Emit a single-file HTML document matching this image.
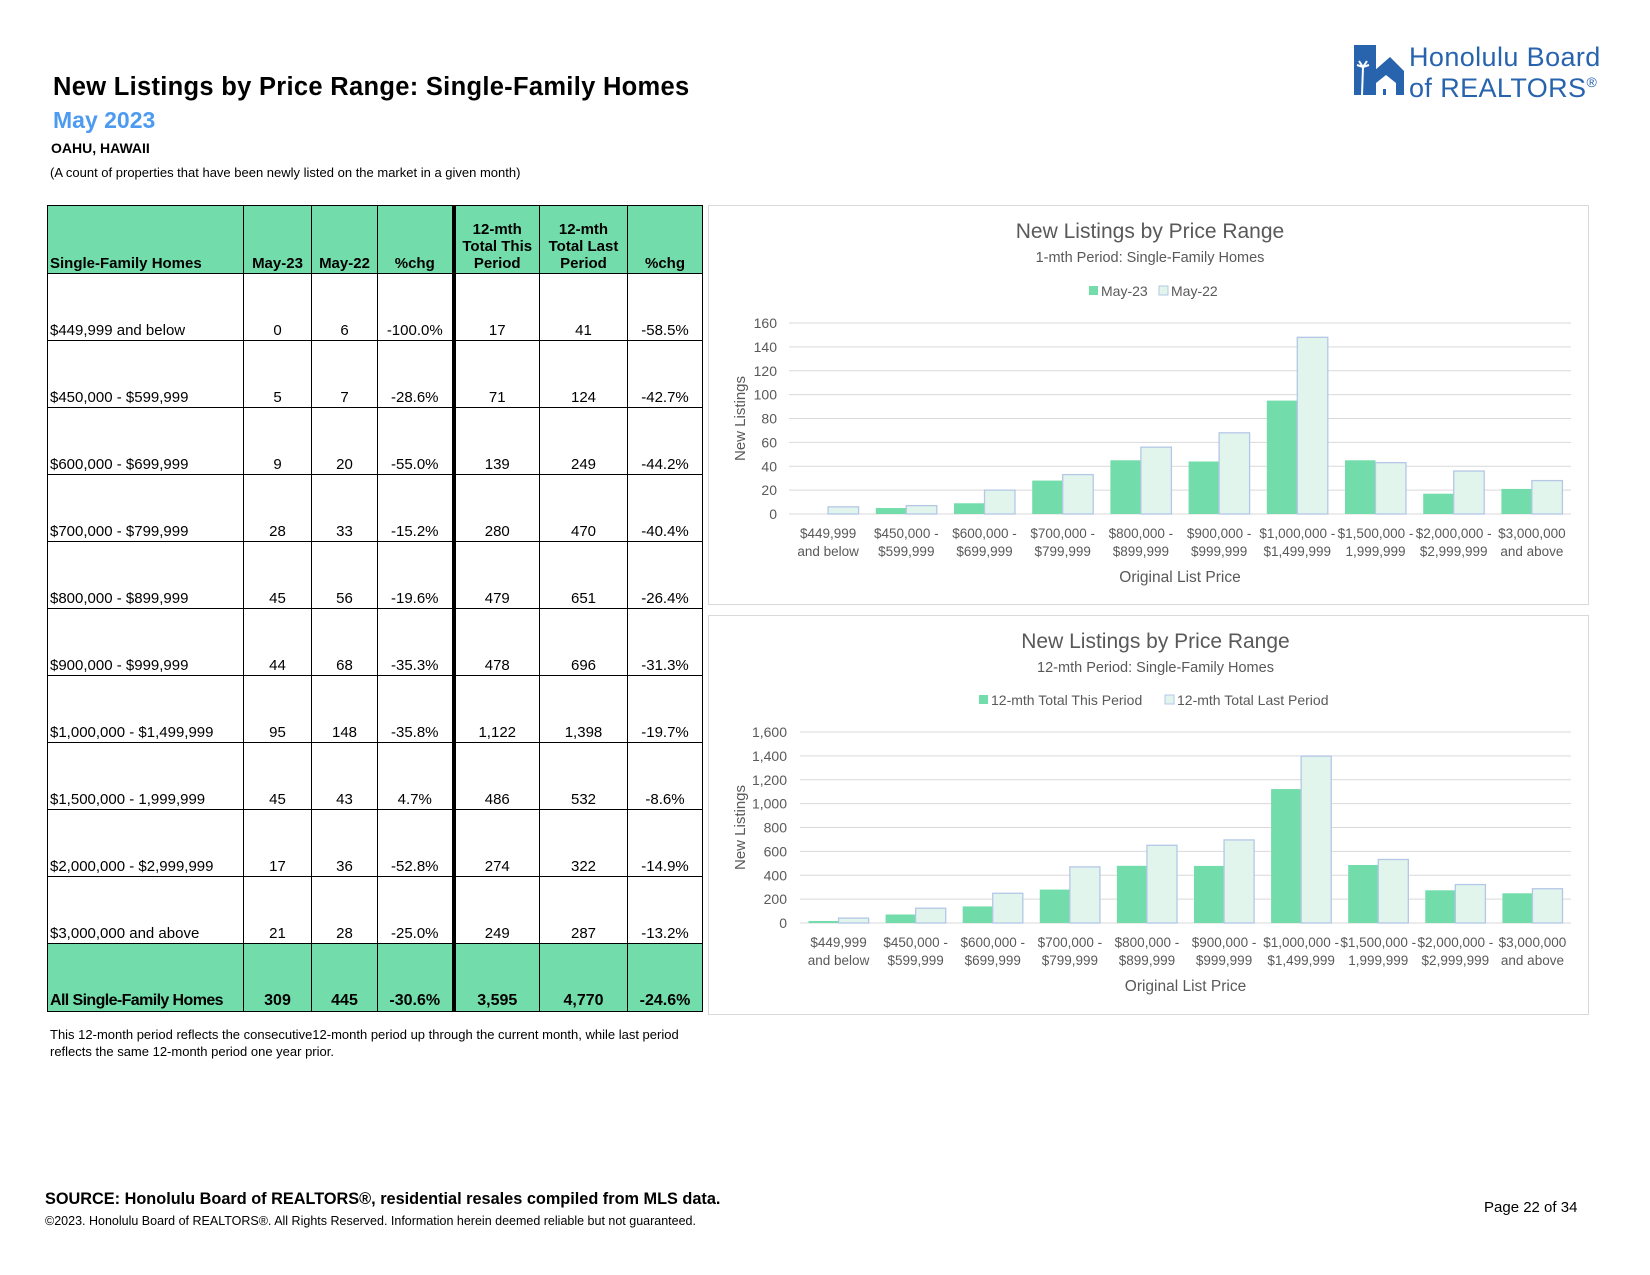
<!DOCTYPE html>
<html><head><meta charset="utf-8"><style>
body{margin:0;width:1650px;height:1275px;background:#fff;position:relative;font-family:"Liberation Sans",Arial,sans-serif;overflow:hidden}
.abs{position:absolute;white-space:nowrap}
table{position:absolute;left:47px;top:205px;border-collapse:collapse;font-size:15px;color:#000}
td{border:1.5px solid #000;height:65px;vertical-align:bottom;text-align:center;padding:0 2px 1px 2px;white-space:nowrap}
td:first-child{text-align:left}
tr.hd td{background:#72DDAA;font-weight:bold;height:66px}
tr.tot td{background:#72DDAA;font-weight:bold;font-size:16px;height:66px}
tr.tot td:first-child{letter-spacing:-0.6px}
td.thick{border-left:4px solid #000}
.box{position:absolute;left:708px;width:881px;height:400px;border:1.5px solid #d9d9d9;box-sizing:border-box}
svg text{font-family:"Liberation Sans",sans-serif}
</style></head><body>
<div class="abs" style="left:53px;top:73px;font-size:25.5px;font-weight:bold;letter-spacing:0.3px">New Listings by Price Range: Single-Family Homes</div>
<div class="abs" style="left:53px;top:107px;font-size:23px;font-weight:bold;color:#4D9BF0">May 2023</div>
<div class="abs" style="left:51px;top:140px;font-size:14px;font-weight:bold">OAHU, HAWAII</div>
<div class="abs" style="left:50px;top:165px;font-size:13px">(A count of properties that have been newly listed on the market in a given month)</div>

<div class="abs" style="left:1354px;top:45px;width:252px;height:52px">
<svg width="52" height="52" viewBox="0 0 52 52" style="position:absolute;left:0;top:0">
<rect x="0" y="0" width="22" height="50" fill="#2864AE"/>
<polygon points="20,50 20,26 36,12 50,26 50,50" fill="#2864AE"/>
<polygon points="22,50 22,38 32,30 42,38 42,50" fill="#fff"/>
<rect x="29" y="44" width="3" height="6" fill="#2864AE"/>
<path d="M8 50 L9 22 M9 22 L3 20 M9 22 L15 20 M9 22 L5 16 M9 22 L13 16" stroke="#fff" stroke-width="2" fill="none"/>
</svg>
<div class="abs" style="left:55px;top:0px;font-size:27px;color:#2864AE;line-height:25px;letter-spacing:0.4px">Honolulu Board<br>of REALTORS<sup style="font-size:14px">®</sup></div>
</div>

<table>
<colgroup><col style="width:196px"><col style="width:68px"><col style="width:66px"><col style="width:76px"><col style="width:86px"><col style="width:88px"><col style="width:75px"></colgroup>
<tr class="hd"><td>Single-Family Homes</td><td>May-23</td><td>May-22</td><td>%chg</td><td class="thick">12-mth<br>Total This<br>Period</td><td>12-mth<br>Total Last<br>Period</td><td>%chg</td></tr>
<tr><td>$449,999 and below</td><td>0</td><td>6</td><td>-100.0%</td><td class="thick">17</td><td>41</td><td>-58.5%</td></tr>
<tr><td>$450,000 - $599,999</td><td>5</td><td>7</td><td>-28.6%</td><td class="thick">71</td><td>124</td><td>-42.7%</td></tr>
<tr><td>$600,000 - $699,999</td><td>9</td><td>20</td><td>-55.0%</td><td class="thick">139</td><td>249</td><td>-44.2%</td></tr>
<tr><td>$700,000 - $799,999</td><td>28</td><td>33</td><td>-15.2%</td><td class="thick">280</td><td>470</td><td>-40.4%</td></tr>
<tr><td>$800,000 - $899,999</td><td>45</td><td>56</td><td>-19.6%</td><td class="thick">479</td><td>651</td><td>-26.4%</td></tr>
<tr><td>$900,000 - $999,999</td><td>44</td><td>68</td><td>-35.3%</td><td class="thick">478</td><td>696</td><td>-31.3%</td></tr>
<tr><td>$1,000,000 - $1,499,999</td><td>95</td><td>148</td><td>-35.8%</td><td class="thick">1,122</td><td>1,398</td><td>-19.7%</td></tr>
<tr><td>$1,500,000 - 1,999,999</td><td>45</td><td>43</td><td>4.7%</td><td class="thick">486</td><td>532</td><td>-8.6%</td></tr>
<tr><td>$2,000,000 - $2,999,999</td><td>17</td><td>36</td><td>-52.8%</td><td class="thick">274</td><td>322</td><td>-14.9%</td></tr>
<tr><td>$3,000,000 and above</td><td>21</td><td>28</td><td>-25.0%</td><td class="thick">249</td><td>287</td><td>-13.2%</td></tr>
<tr class="tot"><td>All Single-Family Homes</td><td>309</td><td>445</td><td>-30.6%</td><td class="thick">3,595</td><td>4,770</td><td>-24.6%</td></tr>
</table>

<div class="abs" style="left:50px;top:1026px;font-size:13px;line-height:17px">This 12-month period reflects the consecutive12-month period up through the current month, while last period<br>reflects the same 12-month period one year prior.</div>
<div class="abs" style="left:45px;top:1190px;font-size:16.3px;font-weight:bold">SOURCE: Honolulu Board of REALTORS®, residential resales compiled from MLS data.</div>
<div class="abs" style="left:45px;top:1214px;font-size:12.5px">©2023. Honolulu Board of REALTORS®. All Rights Reserved. Information herein deemed reliable but not guaranteed.</div>
<div class="abs" style="left:1484px;top:1199px;font-size:15px">Page 22 of 34</div>

<div class="box" style="top:205px"></div>
<div class="box" style="top:615px"></div>
<svg id="charts" width="1650" height="1275" style="position:absolute;left:0;top:0"></svg>

<script>
const categories=[["$449,999","and below"],["$450,000 -","$599,999"],["$600,000 -","$699,999"],["$700,000 -","$799,999"],["$800,000 -","$899,999"],["$900,000 -","$999,999"],["$1,000,000 -","$1,499,999"],["$1,500,000 -","1,999,999"],["$2,000,000 -","$2,999,999"],["$3,000,000","and above"]];
const may23=[0,5,9,28,45,44,95,45,17,21];
const may22=[6,7,20,33,56,68,148,43,36,28];
const total12This=[17,71,139,280,479,478,1122,486,274,249];
const total12Last=[41,124,249,470,651,696,1398,532,322,287];
const ticks1=[0,20,40,60,80,100,120,140,160];
const ticks2=[0,200,400,600,800,1000,1200,1400,1600];
const tickLabels2=["0","200","400","600","800","1,000","1,200","1,400","1,600"];

const NS="http://www.w3.org/2000/svg";
const svg=document.getElementById('charts');
function mk(tag,attrs,txt){const e=document.createElementNS(NS,tag);for(const k in attrs)e.setAttribute(k,attrs[k]);if(txt!==undefined)e.textContent=txt;svg.appendChild(e);return e;}
function drawChart(o){
  const yS=v=>o.y0-(v/o.max)*(o.y0-o.yTop);
  const cw=(o.x1-o.x0)/categories.length;
  const xS=i=>o.x0+cw*i;
  let t=mk('text',{x:(o.x0+o.x1)/2-30,y:o.titleY,'text-anchor':'middle','font-size':21,fill:'#595959'},o.title);
  
  t=mk('text',{x:(o.x0+o.x1)/2-30,y:o.titleY+24,'text-anchor':'middle','font-size':14.5,fill:'#595959'},o.sub);
  
  let lx=o.legX;
  o.legend.forEach((n,k)=>{
    let r=mk('rect',{x:lx,y:o.legY-10,width:9,height:9,fill:k?'#E2F5EC':'#72DDAA',stroke:k?'#B4C7E7':'none'});
    
    let tx=mk('text',{x:lx+12,y:o.legY,'font-size':14,fill:'#595959'},n);
    
    lx+=o.legGap;
  });
  o.ticks.forEach((v,i)=>{
    let g=mk('line',{x1:o.x0,x2:o.x1,y1:yS(v),y2:yS(v),stroke:'#d9d9d9','stroke-width':1});
    
    let tl=mk('text',{x:o.tickX,y:yS(v)+5,'text-anchor':'end','font-size':14,fill:'#595959'},o.tickLabels[i]);
    
  });
  const bw=cw*0.39;
  categories.forEach((c,i)=>{
    const cx=xS(i)+cw/2;
    let b=mk('rect',{x:cx-bw,y:yS(o.a[i]),width:bw,height:o.y0-yS(o.a[i]),fill:'#72DDAA'});
    
    b=mk('rect',{x:cx,y:yS(o.b[i]),width:bw,height:o.y0-yS(o.b[i]),fill:'#E2F5EC',stroke:'#B4C7E7','stroke-width':1.3});
    
    c.forEach((s,k)=>{let l=mk('text',{x:cx,y:o.y0+24+k*18,'text-anchor':'middle','font-size':13.5,fill:'#595959'},s);
      });
  });
  let ax=mk('text',{x:(o.x0+o.x1)/2,y:o.y0+68,'text-anchor':'middle','font-size':15.5,fill:'#595959'},'Original List Price');
  
  let ay=mk('text',{x:0,y:0,'text-anchor':'middle','font-size':15,fill:'#595959',transform:`translate(745,${(o.y0+o.yTop)/2}) rotate(-90)`},'New Listings');
  
}
drawChart({id:'chart1',x0:789,x1:1571,y0:514,yTop:323,max:160,ticks:ticks1,tickLabels:ticks1.map(String),tickX:777,a:may23,b:may22,
  title:'New Listings by Price Range',sub:'1-mth Period: Single-Family Homes',titleY:238,legX:1089,legY:296,legGap:70,legend:['May-23','May-22']});
drawChart({id:'chart2',x0:800,x1:1571,y0:923,yTop:732,max:1600,ticks:ticks2,tickLabels:tickLabels2,tickX:787,a:total12This,b:total12Last,
  title:'New Listings by Price Range',sub:'12-mth Period: Single-Family Homes',titleY:648,legX:979,legY:705,legGap:186,legend:['12-mth Total This Period','12-mth Total Last Period']});
</script>
</body></html>
